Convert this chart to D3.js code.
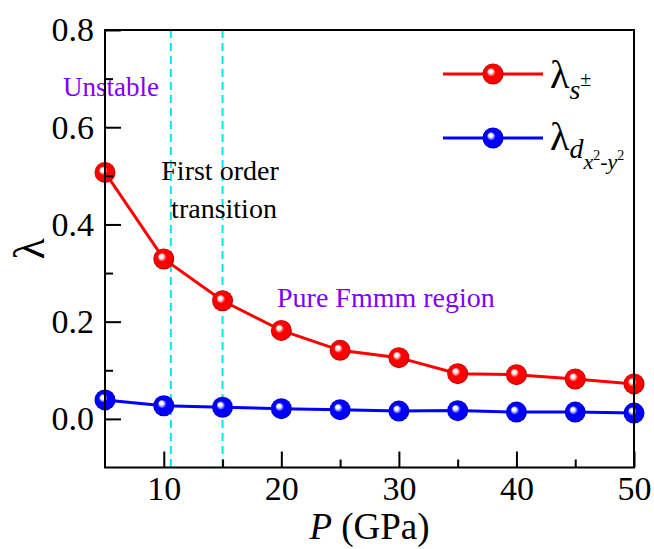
<!DOCTYPE html>
<html>
<head>
<meta charset="utf-8">
<script src="https://cdn.jsdelivr.net/npm/d3@7"></script>
<style>
    body { margin: 0; background: #fff; }
</style>
</head>
<body>
<svg id="chart" width="654" height="549" font-family="Liberation Serif"></svg>
<script>
/*global d3*/

// pressure points (GPa)
var pressure = [5, 10, 15, 20, 25, 30, 35, 40, 45, 50];
// coupling constants
var lambdaS = [0.507, 0.329, 0.243, 0.182, 0.141, 0.126, 0.093, 0.091, 0.082, 0.072];
var lambdaD = [0.039, 0.027, 0.024, 0.021, 0.019, 0.016, 0.017, 0.014, 0.014, 0.012];
// transition boundaries (dashed lines)
var boundaries = [10.6, 15];

var xTicks = [10, 20, 30, 40, 50];
var xMinorTicks = [15, 25, 35, 45];
var yTicks = [0.0, 0.2, 0.4, 0.6, 0.8];
var yMinorTicks = [0.1, 0.3, 0.5, 0.7];

(function () {
    "use strict";

    var svg = d3.select("#chart"),
        serif = "Liberation Serif",
        left = 105,
        right = 634,
        top = 30,
        bottom = 467.5,
        x = d3.scaleLinear().domain([5, 50]).range([left, right]),
        y = d3.scaleLinear().domain([-0.1, 0.8]).range([bottom, top]),
        purple = "#8000ff",
        series,
        defs,
        line,
        plot,
        leg;

    series = [
        {name: "s", color: "#ff0000", dark: "#b00000", values: lambdaS},
        {name: "d", color: "#0000ff", dark: "#0000a0", values: lambdaD}
    ];

    // shaded ball markers
    defs = svg.append("defs");
    series.forEach(function (s) {
        var g = defs.append("radialGradient")
            .attr("id", "ball-" + s.name)
            .attr("cx", "50%").attr("cy", "50%").attr("r", "50%")
            .attr("fx", "36%").attr("fy", "36%");
        g.append("stop").attr("offset", "0%").attr("stop-color", "#ffffff");
        g.append("stop").attr("offset", "18%").attr("stop-color", "#ffffff").attr("stop-opacity", 0.9);
        g.append("stop").attr("offset", "42%").attr("stop-color", s.color);
        g.append("stop").attr("offset", "85%").attr("stop-color", s.color);
        g.append("stop").attr("offset", "100%").attr("stop-color", s.dark);
    });

    // dashed transition lines
    svg.append("g").selectAll("line")
        .data(boundaries)
        .join("line")
        .attr("x1", function (d) { return x(d); })
        .attr("x2", function (d) { return x(d); })
        .attr("y1", top)
        .attr("y2", bottom)
        .attr("stroke", "#00e8f0")
        .attr("stroke-width", 2)
        .attr("stroke-dasharray", "8,5");

    // annotations
    svg.append("text").attr("x", 63).attr("y", 96).attr("font-family", serif)
        .attr("font-size", 27).attr("fill", purple).text("Unstable");
    svg.append("text").attr("x", 220).attr("y", 180).attr("text-anchor", "middle")
        .attr("font-family", serif).attr("font-size", 28).text("First order");
    svg.append("text").attr("x", 224).attr("y", 218).attr("text-anchor", "middle")
        .attr("font-family", serif).attr("font-size", 28).text("transition");
    svg.append("text").attr("x", 277).attr("y", 307).attr("font-family", serif)
        .attr("font-size", 28).attr("fill", purple).text("Pure Fmmm region");

    line = d3.line()
        .x(function (d, i) { return x(pressure[i]); })
        .y(function (d) { return y(d); });

    plot = svg.append("g");
    series.forEach(function (s) {
        plot.append("path")
            .datum(s.values)
            .attr("fill", "none")
            .attr("stroke", s.color)
            .attr("stroke-width", 3)
            .attr("d", line);
        plot.append("g").selectAll("circle")
            .data(s.values)
            .join("circle")
            .attr("cx", function (d, i) { return x(pressure[i]); })
            .attr("cy", function (d) { return y(d); })
            .attr("r", 10.5)
            .attr("fill", "url(#ball-" + s.name + ")");
    });

    // legend
    leg = svg.append("g").attr("font-family", serif);
    [74, 138].forEach(function (ly, i) {
        var s = series[i];
        leg.append("line")
            .attr("x1", 443).attr("x2", 543)
            .attr("y1", ly).attr("y2", ly)
            .attr("stroke", s.color).attr("stroke-width", 3);
        leg.append("circle")
            .attr("cx", 493).attr("cy", ly).attr("r", 10.5)
            .attr("fill", "url(#ball-" + s.name + ")");
    });

    var t1 = leg.append("text").attr("x", 550).attr("y", 88).attr("font-size", 40);
    t1.append("tspan").text("λ");
    t1.append("tspan").attr("dy", 11).attr("font-size", 28).attr("font-style", "italic").text("s");
    t1.append("tspan").attr("dy", -13).attr("font-size", 20).text("±");

    var t2 = leg.append("text").attr("x", 550).attr("y", 150).attr("font-size", 40);
    t2.append("tspan").text("λ");
    t2.append("tspan").attr("dy", 8).attr("font-size", 28).attr("font-style", "italic").text("d");
    t2.append("tspan").attr("dy", 11).attr("font-size", 22).attr("font-style", "italic").text("x");
    t2.append("tspan").attr("dy", -9).attr("font-size", 14).text("2");
    t2.append("tspan").attr("dy", 9).attr("font-size", 22).text("-");
    t2.append("tspan").attr("font-size", 22).attr("font-style", "italic").text("y");
    t2.append("tspan").attr("dy", -9).attr("font-size", 14).text("2");

    // axes (ticks point inward)
    function styleAxis(g) {
        g.attr("font-family", serif).attr("font-size", 34);
        g.select(".domain").remove();
        g.selectAll(".tick line").attr("stroke", "#000").attr("stroke-width", 2);
        g.selectAll(".tick text").attr("fill", "#000");
    }

    svg.append("g")
        .attr("transform", "translate(0," + bottom + ")")
        .call(d3.axisBottom(x).tickValues(xTicks).tickFormat(d3.format("d"))
            .tickSize(-16).tickPadding(8))
        .call(styleAxis);
    svg.append("g")
        .attr("transform", "translate(0," + bottom + ")")
        .call(d3.axisBottom(x).tickValues(xMinorTicks).tickFormat("").tickSize(-8))
        .call(styleAxis);
    svg.append("g")
        .attr("transform", "translate(" + left + ",0)")
        .call(d3.axisLeft(y).tickValues(yTicks).tickFormat(d3.format(".1f"))
            .tickSize(-16).tickPadding(11))
        .call(styleAxis);
    svg.append("g")
        .attr("transform", "translate(" + left + ",0)")
        .call(d3.axisLeft(y).tickValues(yMinorTicks).tickFormat("").tickSize(-8))
        .call(styleAxis);

    // frame
    svg.append("rect")
        .attr("x", left).attr("y", top)
        .attr("width", right - left).attr("height", bottom - top)
        .attr("fill", "none").attr("stroke", "#000").attr("stroke-width", 2);

    // axis titles
    var xt = svg.append("text")
        .attr("x", (left + right) / 2).attr("y", 539)
        .attr("font-family", serif)
        .attr("text-anchor", "middle").attr("font-size", 37);
    xt.append("tspan").attr("font-style", "italic").text("P");
    xt.append("tspan").text(" (GPa)");

    svg.append("text")
        .attr("transform", "translate(44," + ((top + bottom) / 2) + ") rotate(-90)")
        .attr("font-family", serif)
        .attr("text-anchor", "middle")
        .attr("font-size", 44)
        .text("λ");
}());
</script>
</body>
</html>
